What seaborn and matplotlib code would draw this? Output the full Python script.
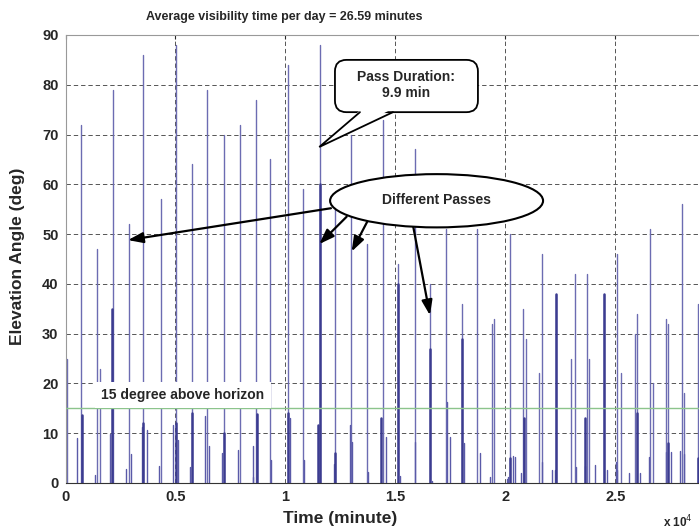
import numpy as np
import pandas as pd
import seaborn as sns
from matplotlib import pyplot as plt
from matplotlib.patches import Ellipse, FancyBboxPatch, Polygon

# main (thin) pass traces: time in minutes, peak elevation in degrees
pass_time = [70, 705, 1432, 1568, 2159, 2886, 3523, 4341, 5023, 5750, 6432, 7205, 7932,
             8659, 9295, 10114, 10795, 11568, 12250, 12977, 13705, 14432, 15114, 15886,
             16568, 17295, 18023, 18705, 19386, 19477, 20205, 20795, 20932, 21523, 21659,
             22295, 22977, 23159, 23705, 23795, 24477, 25068, 25250, 25886, 25977, 26568,
             26705, 27295, 27386, 28023, 28114, 28750]
pass_peak = [25, 72, 47, 23, 79, 52, 86, 57, 88, 64, 79, 70, 72,
             77, 65, 84, 59, 88, 55, 70, 48, 73, 44, 67,
             40, 51, 36, 51, 32, 33, 50, 35, 29, 22, 46,
             38, 25, 42, 42, 25, 38, 46, 22, 30, 34, 51,
             20, 33, 32, 56, 18, 36]

# short low passes
low_time = [536, 1341, 2023, 2750, 2977, 3480, 3691, 4250, 4900, 5100, 5659, 6341, 6523,
            7100, 7827, 8509, 8536, 9341, 10195, 10864, 12223, 12932, 13020, 13741, 14550,
            15223, 15868, 16641, 17350, 17491, 18100, 18850, 19314, 20055, 20123, 20327,
            20432, 20691, 21645, 22100, 22250, 23191, 23614, 24077, 24627, 25023, 25091,
            25595, 26100, 26523, 27318, 27523, 27932, 28127]
low_peak = [9, 1.7, 9.9, 2.9, 5.9, 11.2, 10.6, 3.5, 11.7, 8.7, 3.3, 13.4, 7.4,
            6, 6.7, 7.4, 1.3, 4.7, 13, 4.7, 3.8, 11.7, 8.3, 2.3, 9.3,
            1.5, 8.3, 0.5, 16.3, 9.3, 8, 6, 1.3, 0.9, 1.3, 5.4,
            5.3, 2, 4.3, 2.7, 2.7, 3.3, 3.5, 3.7, 2.7, 4.2, 2.7,
            2, 2, 5.2, 6.3, 6.3, 6.4, 5.9]

# darker (wider) parts of the passes
core_time = [764, 2100, 3523, 5023, 5750, 7205, 8691, 10114, 11473, 11568, 12250, 14341,
             15114, 16568, 18023, 20205, 20836, 22295, 23614, 24477, 25977, 27386, 28750]
core_peak = [13.6, 35, 12, 12, 14, 10, 13.8, 14, 11.7, 60, 6, 13,
             40, 27, 29, 5, 13, 38, 13, 38, 14, 8, 5]

x_ticks = [0, 5000, 10000, 15000, 20000, 25000]
x_tick_labels = ['0', '0.5', '1', '1.5', '2', '2.5']
y_ticks = list(range(0, 100, 10))
horizon_deg = 15


def spikes(times, peaks, kind):
    # each trace is drawn as a vertical segment from the horizon to its peak
    rows = []
    for i, (t, p) in enumerate(zip(times, peaks)):
        rows.append({'t': t, 'el': 0, 'unit': kind + str(i)})
        rows.append({'t': t, 'el': p, 'unit': kind + str(i)})
    return pd.DataFrame(rows)


sns.set_style('white')
plt.rcParams['font.family'] = ['Liberation Sans', 'DejaVu Sans']

fig = plt.figure(figsize=(6.99, 5.31), dpi=100)
ax = fig.add_axes([65.5 / 699, 1 - 483 / 531, 633.5 / 699, 448 / 531])

sns.lineplot(data=spikes(pass_time, pass_peak, 'p'), x='t', y='el', units='unit',
             estimator=None, color='#6c6cb2', lw=1.0, ax=ax, zorder=2)
sns.lineplot(data=spikes(low_time, low_peak, 'l'), x='t', y='el', units='unit',
             estimator=None, color='#5a5aa8', lw=1.0, ax=ax, zorder=2)
sns.lineplot(data=spikes(core_time, core_peak, 'c'), x='t', y='el', units='unit',
             estimator=None, color='#3c3c90', lw=1.8, ax=ax, zorder=2)

ax.axhline(horizon_deg, color='#8cc48c', lw=1.0, zorder=3)

ax.set_xlim(0, 28800)
ax.set_ylim(0, 90)
ax.set_xticks(x_ticks)
ax.set_xticklabels(x_tick_labels)
ax.set_yticks(y_ticks)
ax.set_xlabel('')
ax.set_ylabel('')
ax.grid(True, color='#555555', lw=0.7, linestyle=(0, (4.5, 3)))
ax.tick_params(direction='in', length=3, labelsize=10.5, pad=5, top=True)
for lab in ax.get_xticklabels() + ax.get_yticklabels():
    lab.set_fontweight('bold')
for side in ['top', 'left']:
    ax.spines[side].set_color('#999999')
ax.spines['bottom'].set_color('#333333')
ax.spines['right'].set_visible(False)

ax.text(1620, 17.7, '15 degree above horizon', fontsize=10, fontweight='bold',
        va='center', ha='left', zorder=4,
        bbox=dict(boxstyle='square,pad=0.45', fc='white', ec='none'))

# speech bubble "Pass Duration"
aspect = (90 / 448) / (28800 / 633.5)
ax.add_patch(FancyBboxPatch((12250, 74.5), 6500, 10.5,
                            boxstyle='round,pad=0,rounding_size=520',
                            mutation_aspect=aspect, fc='white', ec='black', lw=1.3,
                            zorder=6))
tip = (11536, 67.5)
base_l, base_r = (13386, 74.5), (14886, 74.5)
ax.add_patch(Polygon([(base_l[0] + 60, 75.1), (base_r[0] - 60, 75.1), tip],
                     closed=True, fc='white', ec='none', zorder=7))
ax.plot([base_l[0], tip[0], base_r[0]], [base_l[1], tip[1], base_r[1]],
        color='black', lw=1.3, zorder=8, solid_joinstyle='miter')
ax.text(15500, 79.9, 'Pass Duration:\n9.9 min', ha='center', va='center',
        fontsize=10, fontweight='bold', linespacing=1.15, zorder=9)

# "Different Passes" ellipse with arrows
arrow_starts = [(12068, 55.2), (12782, 53.5), (13718, 52.5), (15809, 51.5)]
arrow_tips = [(2841, 48.8), (11536, 48.0), (13009, 46.5), (16568, 33.7)]
for s, e in zip(arrow_starts, arrow_tips):
    ax.annotate('', xy=e, xytext=s, zorder=5,
                arrowprops=dict(arrowstyle='-|>,head_length=0.9,head_width=0.32',
                                color='black', lw=1.6, shrinkA=0, shrinkB=0))
ax.add_patch(Ellipse((16870, 56.7), 9682, 10.7, fc='white', ec='black', lw=1.5, zorder=6))
ax.text(16870, 56.9, 'Different Passes', ha='center', va='center', fontsize=10,
        fontweight='bold', zorder=7)

fig.text(284 / 699, 1 - 17 / 531, 'Average visibility time per day = 26.59 minutes',
         ha='center', va='center', fontsize=9, fontweight='bold')
fig.text(18 / 699, 1 - 256 / 531, 'Elevation Angle (deg)', rotation=90, ha='center',
         va='center', fontsize=12.5, fontweight='bold')
fig.text(340 / 699, 1 - 519 / 531, 'Time (minute)', ha='center', va='center',
         fontsize=12.5, fontweight='bold')
fig.text(663 / 699, 1 - 522 / 531, 'x 10$^{4}$', ha='left', va='center',
         fontsize=8.5, fontweight='bold')

fig.savefig('out.png', dpi=100)
